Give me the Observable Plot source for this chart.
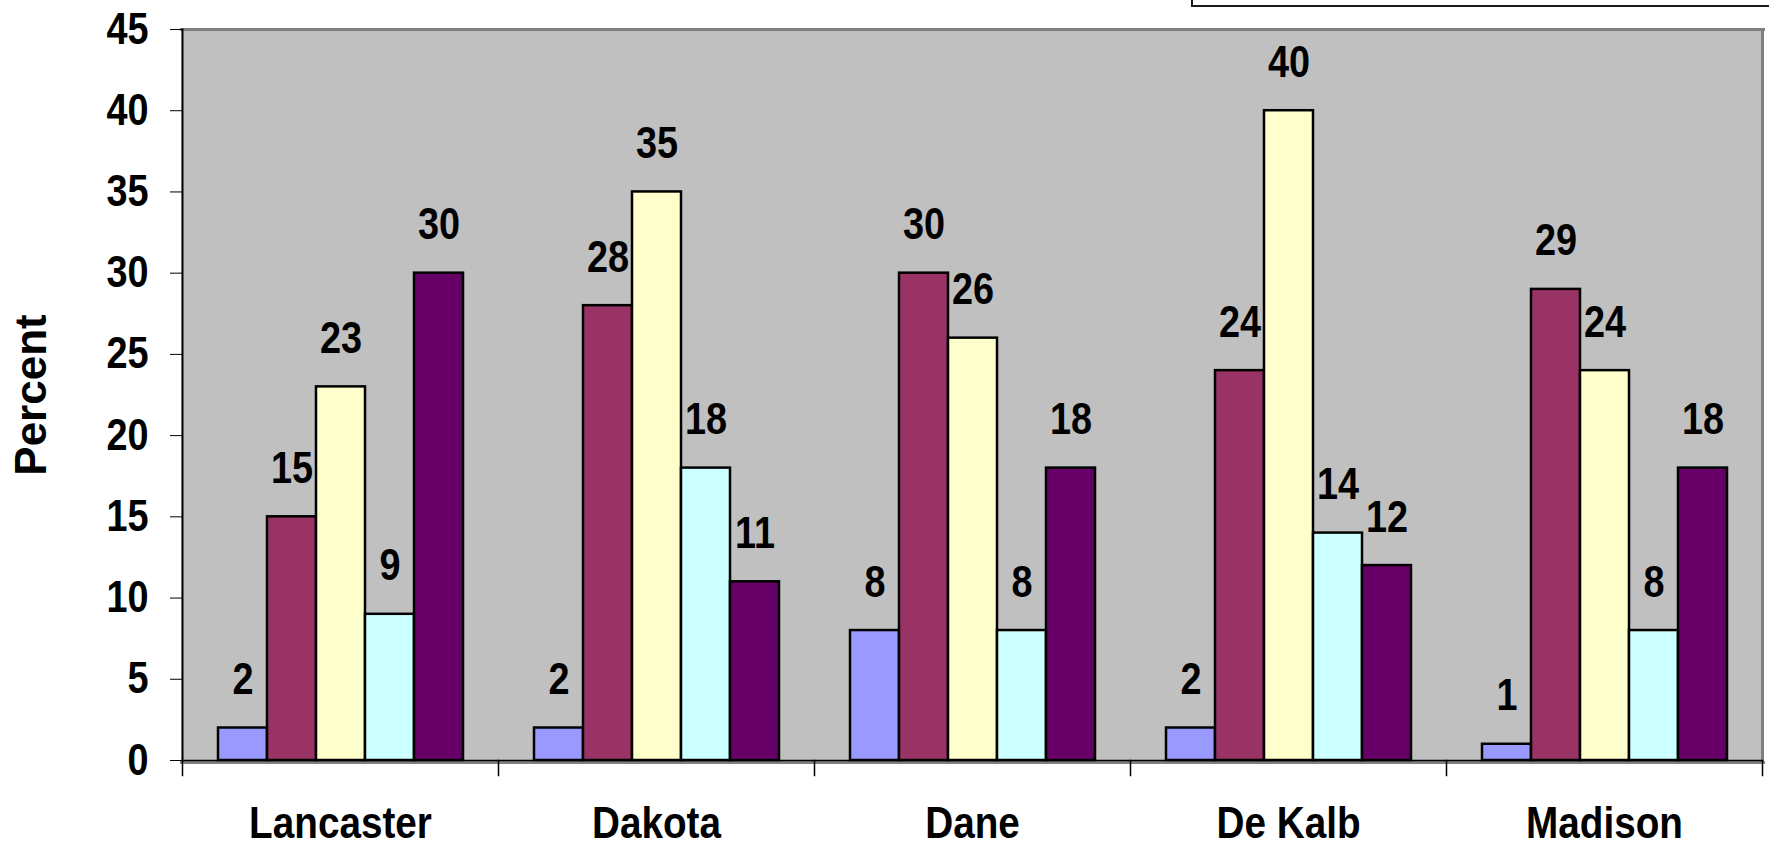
<!DOCTYPE html>
<html><head><meta charset="utf-8">
<script src="https://cdn.jsdelivr.net/npm/d3@7"></script>
<script src="https://cdn.jsdelivr.net/npm/@observablehq/plot@0.6"></script>
<style>
body{margin:0;background:#fff;overflow:hidden;}
#wrap{position:relative;width:1769px;height:847px;overflow:hidden;}
#legendbox{position:absolute;left:1191px;top:-60px;width:700px;height:63px;border:2px solid #1a1a1a;background:#fff;}
#chart{position:absolute;left:0;top:0;}
</style></head><body><div id="wrap"><div id="chart"></div><div id="legendbox"></div></div>
<script>
const counties = ["Lancaster", "Dakota", "Dane", "De Kalb", "Madison"];
const seriesKeys = ["S1", "S2", "S3", "S4", "S5"];
const seriesColors = ["#9999ff", "#993366", "#ffffcc", "#ccffff", "#660066"];
const lancaster = [2, 15, 23, 9, 30];
const dakota = [2, 28, 35, 18, 11];
const dane = [8, 30, 26, 8, 18];
const dekalb = [2, 24, 40, 14, 12];
const madison = [1, 29, 24, 8, 18];
const yTicks = [0, 5, 10, 15, 20, 25, 30, 35, 40, 45];

const byCounty = [lancaster, dakota, dane, dekalb, madison];
const table = [];
counties.forEach((c, i) => seriesKeys.forEach((s, j) => table.push({county: c, series: s, value: byCounty[i][j]})));

const FONT = "'Liberation Sans',Arial,sans-serif";
const CONDENSE = 0.86;

const chart = Plot.plot({
  width: 1769,
  height: 847,
  marginLeft: 181,
  marginRight: 6,
  marginTop: 29,
  marginBottom: 87,
  style: {fontFamily: FONT, fontWeight: "bold", color: "black", background: "transparent"},
  fx: {domain: counties, padding: 0},
  x: {domain: seriesKeys, paddingInner: 0, paddingOuter: 0.7, axis: null},
  y: {domain: [0, 45]},
  color: {domain: seriesKeys, range: seriesColors},
  marks: [
    Plot.frame({fill: "#c0c0c0", insetLeft: -1, insetRight: -1}),
    Plot.frame({anchor: "top", stroke: "#808080", strokeWidth: 3, insetLeft: -1, insetRight: -1}),
    Plot.frame({anchor: "right", stroke: "#808080", strokeWidth: 3, facetAnchor: "right"}),
    Plot.frame({anchor: "bottom", stroke: "#808080", strokeWidth: 3, insetBottom: -2, insetLeft: -1, insetRight: -1}),
    Plot.barY(table, {fx: "county", x: "series", y: "value", fill: "series", stroke: "black", strokeWidth: 2.5}),
    Plot.ruleY([0], {stroke: "black", strokeWidth: 1.5}),
    Plot.frame({anchor: "left", stroke: "black", strokeWidth: 2, facetAnchor: "left"}),
    Plot.frame({anchor: "left", stroke: "black", strokeWidth: 1.5, insetTop: 731, insetBottom: -15}),
    Plot.frame({anchor: "right", stroke: "black", strokeWidth: 1.5, insetTop: 731, insetBottom: -15, facetAnchor: "right"}),
    Plot.text(table, {fx: "county", x: "series", y: "value", text: "value", lineAnchor: "bottom", dy: -34, fontSize: 44, fontWeight: "bold", fill: "black"}),
    Plot.axisY({ticks: yTicks, tickSize: 12, tickPadding: 22, fontSize: 44, fontWeight: "bold", label: "Percent", labelAnchor: "center", labelArrow: "none", labelOffset: 168}),
    Plot.axisFx({anchor: "bottom", tickSize: 0, tickPadding: 46, fontSize: 45, fontWeight: "bold", label: null})
  ]
});

// condense the (non-rotated) text horizontally, like the narrow bold face of the original
d3.select(chart).selectAll("text").each(function () {
  const t = this.getAttribute("transform");
  if (t && t.includes("rotate")) return;
  if (t) {
    this.setAttribute("transform", t + ` scale(${CONDENSE},1)`);
  } else {
    const x = +(this.getAttribute("x") || 0), y = +(this.getAttribute("y") || 0);
    this.setAttribute("transform", `translate(${x},${y}) scale(${CONDENSE},1) translate(${-x},${-y})`);
  }
});

document.getElementById("chart").appendChild(chart);
</script>
</body></html>
